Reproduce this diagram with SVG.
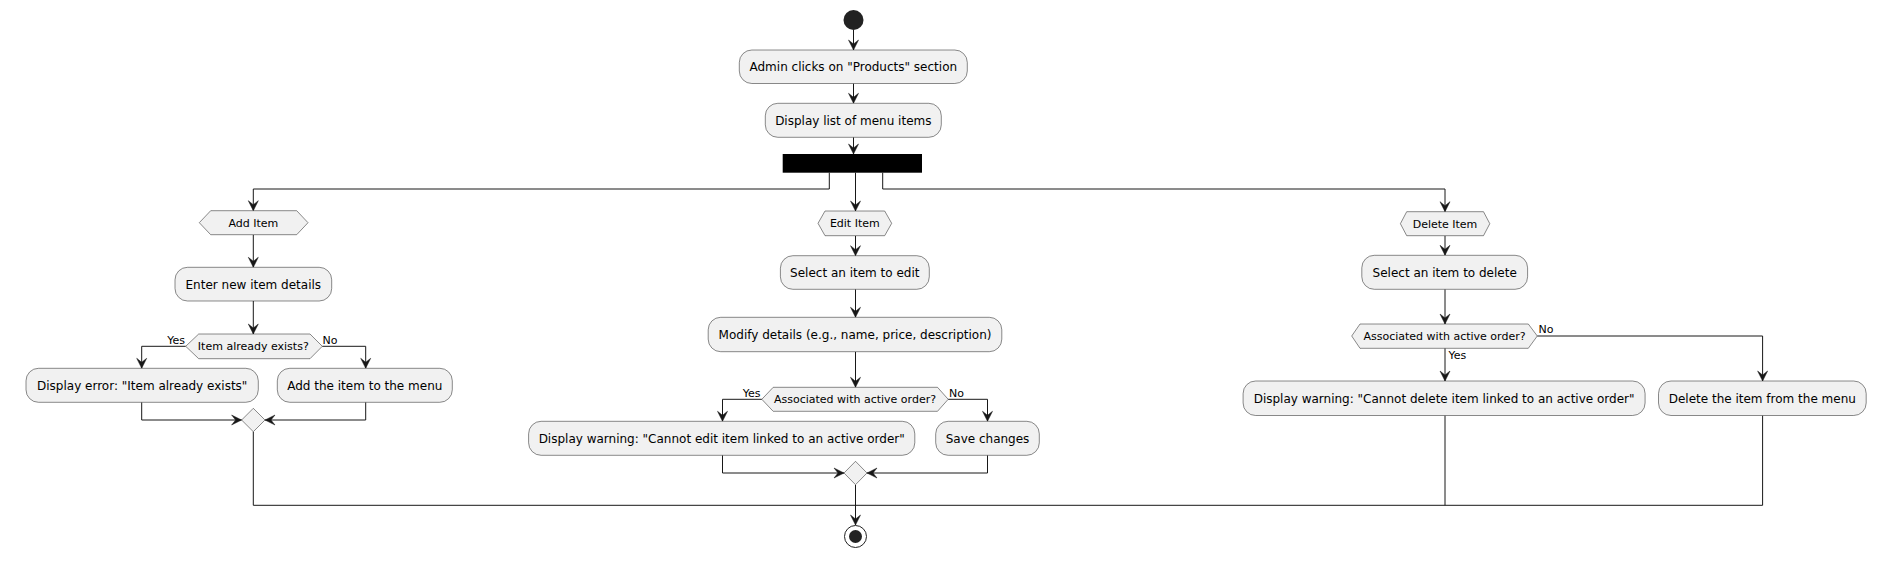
<svg xmlns="http://www.w3.org/2000/svg" width="1878" height="563" viewBox="0 0 1878 563">
<style>
  .box{fill:#F1F1F1;stroke:#181818;stroke-width:0.5}
  .hex{fill:#F1F1F1;stroke:#181818;stroke-width:0.5}
  .t{font-family:"DejaVu Sans",sans-serif;font-size:12px;fill:#000;text-anchor:middle}
  .ht{font-family:"DejaVu Sans",sans-serif;font-size:11px;fill:#000;text-anchor:middle}
  .lbl{font-family:"DejaVu Sans",sans-serif;font-size:11px;fill:#000}
  .ln{fill:none;stroke:#181818;stroke-width:1}
  .arr{fill:none;stroke:#181818;stroke-width:1;marker-end:url(#ah)}
</style>
<defs>
  <marker id="ah" viewBox="-11 -6 12 12" refX="0" refY="0" markerWidth="12" markerHeight="12" markerUnits="userSpaceOnUse" orient="auto">
    <path d="M0,0 L-10,-5 L-6,0 L-10,5 Z" fill="#181818" stroke="#181818" stroke-width="0.5"/>
  </marker>
</defs>
<rect width="1878" height="563" fill="#FFFFFF"/>

<g id="connectors">
  <path class="arr" d="M853.5 30 V50"/>
  <path class="arr" d="M853.5 83.5 V103.3"/>
  <path class="arr" d="M853.5 137.3 V154"/>
  <path class="arr" d="M829.3 172.7 V189 H253.3 V210.7"/>
  <path class="arr" d="M855.5 172.7 V211"/>
  <path class="arr" d="M882.7 172.7 V189 H1445 V211.7"/>
  <!-- left branch -->
  <path class="arr" d="M253.3 234.7 V267.3"/>
  <path class="arr" d="M253.3 301 V334"/>
  <path class="arr" d="M185.7 346.3 H141.7 V368.3"/>
  <path class="arr" d="M322.3 346.3 H365.7 V368.3"/>
  <path class="arr" d="M141.7 402.3 V420 H241.6"/>
  <path class="arr" d="M365.7 402.3 V420 H265"/>
  <path class="ln" d="M253.3 431.7 V505.3"/>
  <!-- center branch -->
  <path class="arr" d="M855.5 235.7 V255.7"/>
  <path class="arr" d="M855.5 289.3 V317.3"/>
  <path class="arr" d="M855.5 351.7 V387.3"/>
  <path class="arr" d="M761.8 399.3 H722.5 V421.3"/>
  <path class="arr" d="M948.2 399.3 H987.5 V421.3"/>
  <path class="arr" d="M722.5 455.3 V473 H844"/>
  <path class="arr" d="M987.5 455.3 V473 H867"/>
  <path class="arr" d="M855.5 485 V525"/>
  <!-- right branch -->
  <path class="arr" d="M1445 235.7 V255.3"/>
  <path class="arr" d="M1445 289.3 V324"/>
  <path class="arr" d="M1445 348.3 V381"/>
  <path class="arr" d="M1537.3 336 H1762.6 V381"/>
  <path class="ln" d="M1445 415.5 V505.3"/>
  <path class="ln" d="M1762.6 415.5 V505.3"/>
  <path class="ln" d="M253.3 505.3 H1762.6"/>
  <!-- labels -->
  <text class="lbl" x="185" y="344" text-anchor="end">Yes</text>
  <text class="lbl" x="322.5" y="344">No</text>
  <text class="lbl" x="760.5" y="397" text-anchor="end">Yes</text>
  <text class="lbl" x="949" y="397">No</text>
  <text class="lbl" x="1448.5" y="359">Yes</text>
  <text class="lbl" x="1538.5" y="333">No</text>
</g>

<g id="start"><circle cx="853.5" cy="20" r="10" fill="#222222"/></g>

<g id="admin-clicks">
  <rect class="box" x="739.3" y="50" width="228" height="33.5" rx="12.5"/>
  <text class="t" x="853.3" y="71">Admin clicks on "Products" section</text>
</g>
<g id="display-list">
  <rect class="box" x="765.3" y="103.3" width="176" height="34" rx="12.5"/>
  <text class="t" x="853.3" y="124.6">Display list of menu items</text>
</g>
<g id="fork"><rect x="782.7" y="154" width="139.3" height="18.7" fill="#000000"/></g>

<!-- Add branch -->
<g id="add-item">
  <polygon class="hex" points="199.3,222.7 210.7,210.7 296.7,210.7 308,222.7 296.7,234.7 210.7,234.7"/>
  <text class="ht" x="253.3" y="226.6">Add Item</text>
</g>
<g id="enter-details">
  <rect class="box" x="175" y="267.3" width="156.7" height="33.7" rx="12.5"/>
  <text class="t" x="253.3" y="288.5">Enter new item details</text>
</g>
<g id="item-exists">
  <polygon class="hex" points="185.7,346.3 198.7,334 310,334 322.3,346.3 310,358.7 198.7,358.7"/>
  <text class="ht" x="253.3" y="350.3">Item already exists?</text>
</g>
<g id="display-error">
  <rect class="box" x="26" y="368.3" width="232.3" height="34" rx="12.5"/>
  <text class="t" x="142.2" y="389.6">Display error: "Item already exists"</text>
</g>
<g id="add-to-menu">
  <rect class="box" x="277.3" y="368.3" width="175" height="34" rx="12.5"/>
  <text class="t" x="364.8" y="389.6">Add the item to the menu</text>
</g>
<g id="merge-add">
  <polygon class="hex" points="253.3,408.3 265,420 253.3,431.7 241.6,420"/>
</g>

<!-- Edit branch -->
<g id="edit-item">
  <polygon class="hex" points="818,223.3 825,211 884.7,211 891.7,223.3 884.7,235.7 825,235.7"/>
  <text class="ht" x="854.8" y="227.3">Edit Item</text>
</g>
<g id="select-edit">
  <rect class="box" x="780.4" y="255.7" width="148.9" height="33.6" rx="12.5"/>
  <text class="t" x="854.8" y="276.8">Select an item to edit</text>
</g>
<g id="modify-details">
  <rect class="box" x="708.2" y="317.3" width="293.6" height="34.4" rx="12.5"/>
  <text class="t" x="855" y="338.8">Modify details (e.g., name, price, description)</text>
</g>
<g id="edit-active">
  <polygon class="hex" points="761.8,399.3 773.2,387.3 937.5,387.3 948.2,399.3 937.5,411.3 773.2,411.3"/>
  <text class="ht" x="855" y="403.3">Associated with active order?</text>
</g>
<g id="edit-warning">
  <rect class="box" x="528.6" y="421.3" width="386.2" height="34" rx="12.5"/>
  <text class="t" x="721.7" y="442.6">Display warning: "Cannot edit item linked to an active order"</text>
</g>
<g id="save-changes">
  <rect class="box" x="935.7" y="421.3" width="103.6" height="34" rx="12.5"/>
  <text class="t" x="987.5" y="442.6">Save changes</text>
</g>
<g id="merge-edit">
  <polygon class="hex" points="855.5,461.3 867,473 855.5,484.7 844,473"/>
</g>

<!-- Delete branch -->
<g id="delete-item">
  <polygon class="hex" points="1400.4,223.7 1406.7,211.7 1483.5,211.7 1489.8,223.7 1483.5,235.7 1406.7,235.7"/>
  <text class="ht" x="1445" y="227.7">Delete Item</text>
</g>
<g id="select-delete">
  <rect class="box" x="1361.8" y="255.3" width="165.8" height="34" rx="12.5"/>
  <text class="t" x="1444.7" y="276.6">Select an item to delete</text>
</g>
<g id="delete-active">
  <polygon class="hex" points="1351.7,336 1360,324 1528.3,324 1537.3,336 1528.3,348.3 1360,348.3"/>
  <text class="ht" x="1444.5" y="340">Associated with active order?</text>
</g>
<g id="delete-warning">
  <rect class="box" x="1243.1" y="381" width="402" height="34.5" rx="12.5"/>
  <text class="t" x="1444.1" y="402.5">Display warning: "Cannot delete item linked to an active order"</text>
</g>
<g id="delete-from-menu">
  <rect class="box" x="1658.5" y="381" width="207.7" height="34.5" rx="12.5"/>
  <text class="t" x="1762.3" y="402.5">Delete the item from the menu</text>
</g>

<g id="end">
  <circle cx="855.5" cy="536.5" r="11" fill="#FFFFFF" stroke="#222222" stroke-width="1"/>
  <circle cx="855.5" cy="536.5" r="6.5" fill="#222222"/>
</g>
</svg>
